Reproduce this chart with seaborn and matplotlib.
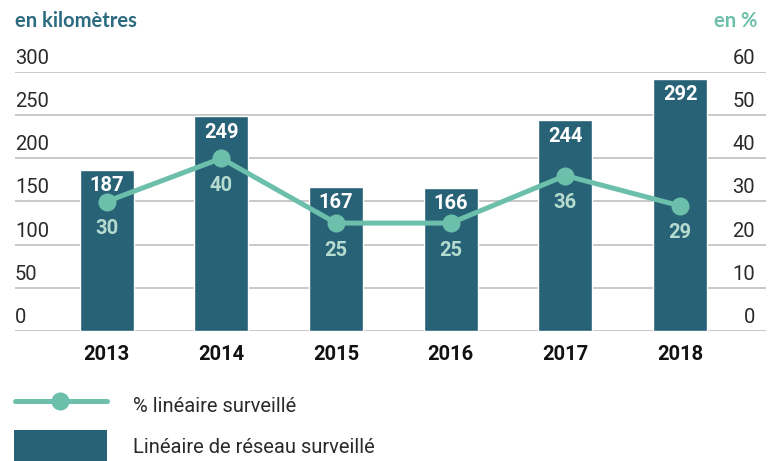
import matplotlib
matplotlib.use('Agg')
import matplotlib.pyplot as plt
from matplotlib.lines import Line2D
from matplotlib.patches import Rectangle
import seaborn as sns
import pandas as pd

years = ['2013', '2014', '2015', '2016', '2017', '2018']
km_values = [187, 249, 167, 166, 244, 292]
pct_values = [30, 40, 25, 25, 36, 29]
km_ticks = [0, 50, 100, 150, 200, 250, 300]
pct_ticks = [0, 10, 20, 30, 40, 50, 60]

bar_color = '#286276'
line_color = '#6cbfaa'
pct_label_color = '#b5dccf'
title_color = '#2c6a80'
text_color = '#2a2a2a'

sns.set_theme(style='white')
plt.rcParams['font.family'] = ['Roboto', 'DejaVu Sans']

df = pd.DataFrame({'year': years, 'km': km_values, 'pct': pct_values})

fig = plt.figure(figsize=(7.72, 4.61), dpi=100)
ax = fig.add_axes([15 / 772, 130 / 461, 751 / 772, 259 / 461])

sns.barplot(data=df, x='year', y='km', color=bar_color, width=0.47,
            saturation=1, ax=ax, zorder=2)
ax.set_xlim(-0.8, 5.75)
ax.set_ylim(0, 300)

# grid lines behind bars
for t in km_ticks:
    ax.axhline(t, color='#c8c8c8', lw=1.4, zorder=0)

ax2 = ax.twinx()
sns.lineplot(x=list(range(len(years))), y=pct_values, ax=ax2, color=line_color,
             lw=3.6, marker='o', markersize=13, markeredgewidth=0, zorder=3)
ax2.set_ylim(0, 60)

for a in (ax, ax2):
    a.set_xticks([])
    a.set_yticks([])
    a.set_xlabel('')
    a.set_ylabel('')
    for s in a.spines.values():
        s.set_visible(False)

# axis labels drawn above gridlines
for t in km_ticks:
    ax.annotate(str(t), (0, t), xycoords=('axes fraction', 'data'),
                xytext=(0, 3), textcoords='offset points', ha='left', va='bottom',
                fontsize=14.5, color=text_color)
for t in pct_ticks:
    ax2.annotate(str(t), (1, t), xycoords=('axes fraction', 'data'),
                 xytext=(-8, 3), textcoords='offset points', ha='right', va='bottom',
                 fontsize=14.5, color=text_color)

for i, y in enumerate(years):
    ax.annotate(y, (i, 0), xycoords='data', xytext=(0, -17), textcoords='offset points',
                ha='center', va='center', fontsize=14.5, fontweight='bold', color='#111111')
    ax.annotate(str(km_values[i]), (i, km_values[i]), xytext=(0, -11.5),
                textcoords='offset points', ha='center', va='center',
                fontsize=14.5, fontweight='bold', color='white', zorder=4)
    ax2.annotate(str(pct_values[i]), (i, pct_values[i]), xytext=(0, -19.5),
                 textcoords='offset points', ha='center', va='center',
                 fontsize=14.5, fontweight='bold', color=pct_label_color, zorder=4)

fig.text(15 / 772, 1 - 21 / 461, 'en kilomètres', ha='left', va='center',
         fontsize=14.5, fontweight='bold', color=title_color, family=['Lato', 'DejaVu Sans'])
fig.text(757 / 772, 1 - 21 / 461, 'en %', ha='right', va='center',
         fontsize=14.5, fontweight='bold', color=line_color, family=['Lato', 'DejaVu Sans'])

# legend
ly = 1 - 401 / 461
fig.add_artist(Line2D([15 / 772, 107 / 772], [ly, ly], transform=fig.transFigure,
                      color=line_color, lw=3.6))
fig.add_artist(Line2D([60 / 772], [ly], transform=fig.transFigure, marker='o',
                      markersize=13, color=line_color, markeredgewidth=0))
fig.text(133 / 772, 1 - 406 / 461, '% linéaire surveillé', ha='left', va='center',
         fontsize=14.5, color=text_color)
fig.add_artist(Rectangle((14 / 772, 0), 93 / 772, 31 / 461, transform=fig.transFigure,
                         color=bar_color, lw=0))
fig.text(133 / 772, 1 - 447 / 461, 'Linéaire de réseau surveillé', ha='left', va='center',
         fontsize=14.5, color=text_color)

fig.savefig('out.png', dpi=100)
